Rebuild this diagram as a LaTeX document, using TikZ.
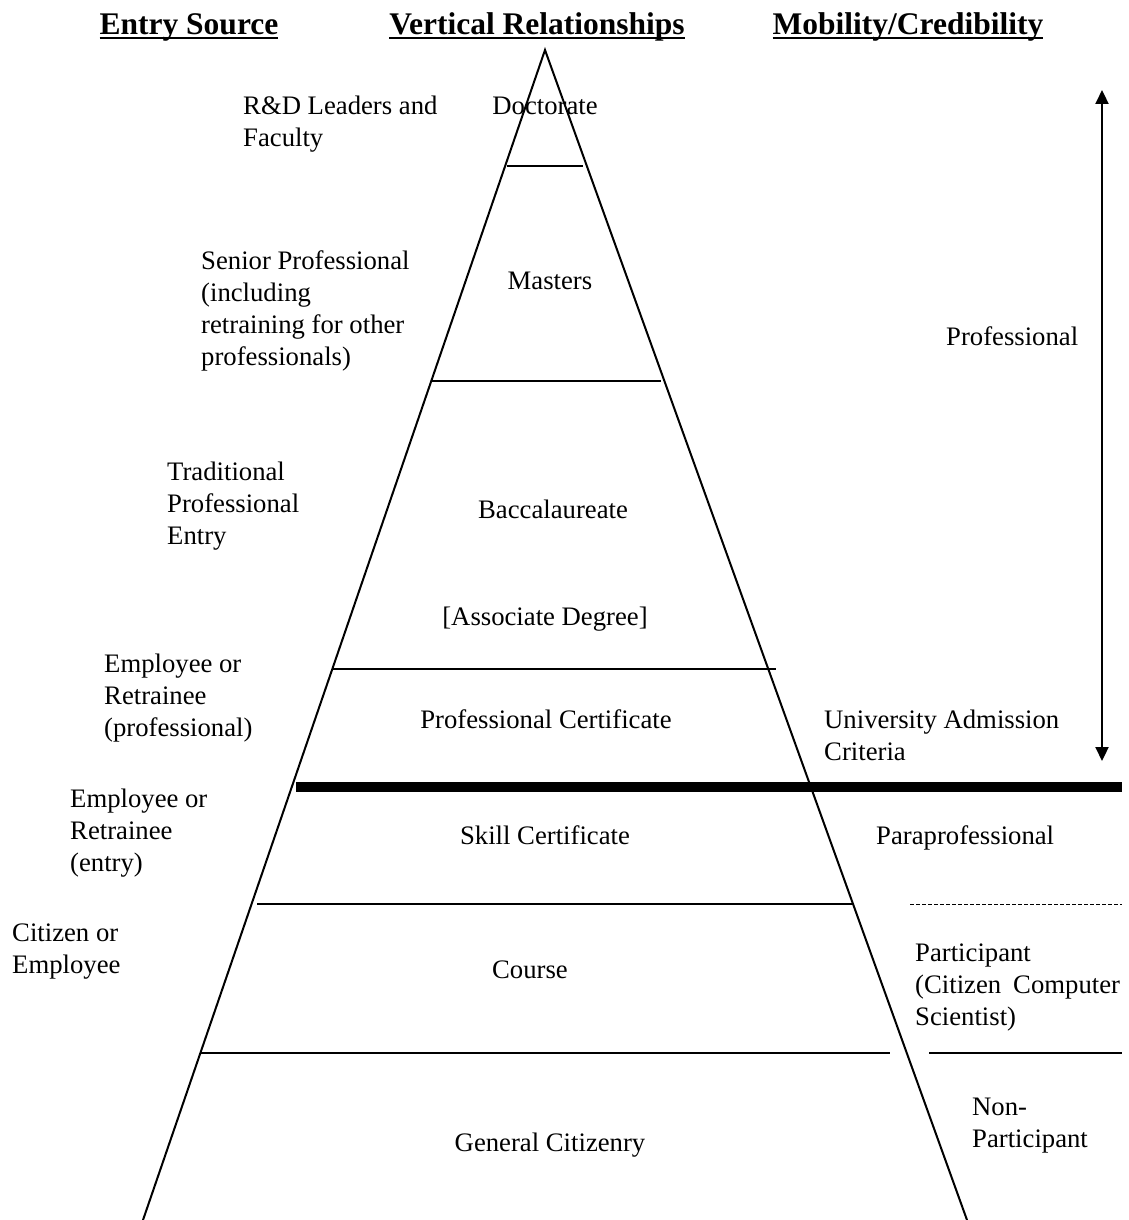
\documentclass[tikz,border=0pt]{standalone}
\usepackage{fontspec}
\setmainfont{Liberation Serif}
\usetikzlibrary{arrows.meta}
\newcommand\myul[1]{\setbox0\hbox{#1}\rlap{\rule[-4.5pt]{\wd0}{2.6pt}}\box0}
\begin{document}
\begin{tikzpicture}[x=1pt,y=-1pt,
  txt/.style={inner sep=0pt,font=\fontsize{26.7}{32}\selectfont},
  ctr/.style={txt,anchor=base},
  lbl/.style={txt,anchor=north west,yshift=22.4pt,align=left},
  head/.style={inner sep=0pt,anchor=base,font=\fontsize{31.5}{36}\selectfont\bfseries},
  side/.style={line width=2pt},
  tier/.style={line width=2.6pt},
  divide/.style={line width=10pt},
  dotsep/.style={line width=1pt,dash pattern=on 4pt off 2pt},
  updown/.style={line width=2.2pt,{Triangle[length=14pt,width=13pt]}-{Triangle[length=14pt,width=13pt]}}]
\useasboundingbox (0,0) rectangle (1128,1220);
% headings
\node[head] (h1) at (189,35) {\myul{Entry Source}};
\node[head] (h2) at (537,35) {\myul{Vertical Relationships}};
\node[head] (h3) at (908,35) {\myul{Mobility/Credibility}};
% pyramid
\coordinate (apex) at (545,50);
\coordinate (bl) at (143,1220);
\coordinate (br) at (967,1220);
\draw[side] (bl) -- (apex) -- (br);
% tier lines
\coordinate (d1) at (507,166); \coordinate (d2) at (583,166);
\coordinate (m1) at (431,381); \coordinate (m2) at (661,381);
\coordinate (a1) at (333,669); \coordinate (a2) at (776,669);
\coordinate (t1) at (296,787); \coordinate (t2) at (1122,787);
\coordinate (s1) at (257,904); \coordinate (s2) at (853,904);
\coordinate (p1) at (910,904); \coordinate (p2) at (1122,904);
\coordinate (c1) at (200,1053); \coordinate (c2) at (890,1053);
\coordinate (c3) at (929,1053); \coordinate (c4) at (1122,1053);
\draw[tier] (d1) -- (d2);
\draw[tier] (m1) -- (m2);
\draw[tier] (a1) -- (a2);
\draw[divide] (t1) -- (t2);
\draw[tier] (s1) -- (s2);
\draw[dotsep] (p1) -- (p2);
\draw[tier] (c1) -- (c2);
\draw[tier] (c3) -- (c4);
% arrow
\coordinate (arrtop) at (1102,90);
\coordinate (arrbot) at (1102,761);
\draw[updown] (arrbot) -- (arrtop);
% pyramid labels
\node[ctr] (doc) at (545,114) {Doctorate};
\node[ctr] (mas) at (550,289) {Masters};
\node[ctr] (bac) at (553,518) {Baccalaureate};
\node[ctr] (ass) at (545,625) {[Associate Degree]};
\node[ctr] (pc) at (546,728) {Professional Certificate};
\node[ctr] (sc) at (545,844) {Skill Certificate};
\node[ctr] (co) at (530,978) {Course};
\node[ctr] (gc) at (550,1151) {General Citizenry};
% entry source
\node[lbl] (e1) at (243,114) {\strut R\&D Leaders and\\Faculty};
\node[lbl] (e2) at (201,269) {\strut Senior Professional\\(including\\retraining for other\\professionals)};
\node[lbl] (e3) at (167,480) {\strut Traditional\\Professional\\Entry};
\node[lbl] (e4) at (104,672) {\strut Employee or\\Retrainee\\(professional)};
\node[lbl] (e5) at (70,807) {\strut Employee or\\Retrainee\\(entry)};
\node[lbl] (e6) at (12,941) {\strut Citizen or\\Employee};
% mobility
\node[lbl] (r1) at (946,345) {\strut Professional};
\node[lbl] (r2) at (824,728) {\strut University Admission\\Criteria};
\node[lbl] (r3) at (876,844) {\strut Paraprofessional};
\node[lbl] (r4) at (915,961) {\strut Participant\\(Citizen\hspace{12pt}Computer\\Scientist)};
\node[lbl] (r5) at (972,1115) {\strut Non-\\Participant};
\end{tikzpicture}
\end{document}
